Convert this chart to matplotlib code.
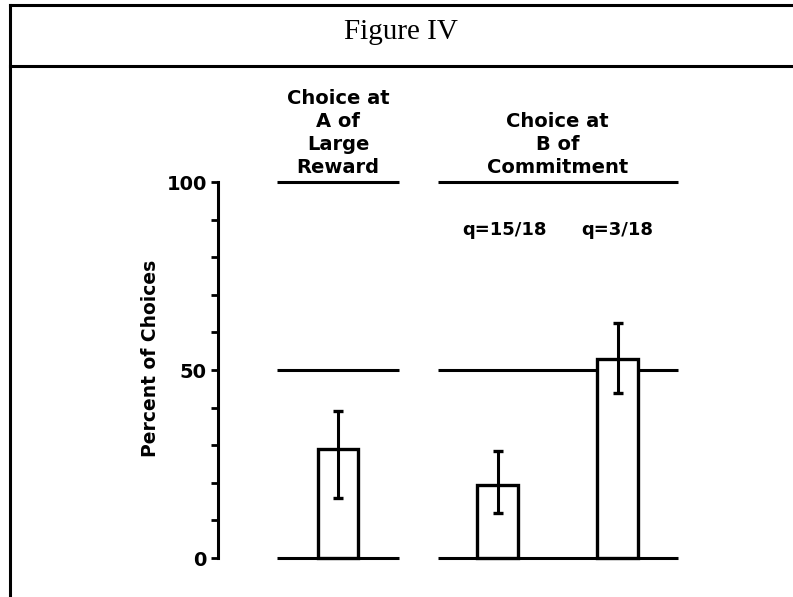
import matplotlib
matplotlib.use('Agg')
import matplotlib.pyplot as plt
from matplotlib.lines import Line2D

# bar data (percent of choices)
bar_labels = ['Large Reward', 'q=15/18', 'q=3/18']
bar_pos = [1.0, 2.33, 3.33]
bar_values = [29, 19.5, 53]
err_low = [16, 12, 44]
err_high = [39, 28.5, 62.5]

# reference lines per group (0, 50, 100 percent)
ref_levels = [0, 50, 100]
group_centers = [1.0, 2.83]
group_halfwidths = [0.51, 1.0]
group_titles = ['Choice at\nA of\nLarge\nReward', 'Choice at\nB of\nCommitment']
q_labels = ['q=15/18', 'q=3/18']

W, H = 793, 597
fig = plt.figure(figsize=(W / 100, H / 100), dpi=100)

# frame around the figure, like the scanned page
fig.add_artist(Line2D([10 / W, 10 / W], [0, 1 - 5 / H], color='black', lw=2.2, transform=fig.transFigure))
fig.add_artist(Line2D([10 / W, 1], [1 - 5 / H, 1 - 5 / H], color='black', lw=2.2, transform=fig.transFigure))
fig.add_artist(Line2D([10 / W, 1], [1 - 66 / H, 1 - 66 / H], color='black', lw=2.2, transform=fig.transFigure))
fig.text(401 / W, 1 - 39 / H, 'Figure IV', ha='center', va='baseline',
         family='Liberation Serif', fontsize=21)

ax = fig.add_axes([218 / W, (H - 558) / H, 480 / W, 376 / H])
ax.set_xlim(0, 4.0)
ax.set_ylim(0, 100)

for s in ['top', 'right', 'bottom']:
    ax.spines[s].set_visible(False)
ax.spines['left'].set_linewidth(2.2)

# reference lines
for c, hw in zip(group_centers, group_halfwidths):
    for lv in ref_levels:
        ax.hlines(lv, c - hw, c + hw, color='black', lw=2.2, clip_on=False)

# bars
ax.bar(bar_pos, bar_values, width=0.34, facecolor='white', edgecolor='black', lw=2.4, zorder=3, clip_on=False)
yerr = [[v - lo for v, lo in zip(bar_values, err_low)], [hi - v for v, hi in zip(bar_values, err_high)]]
ax.errorbar(bar_pos, bar_values, yerr=yerr, fmt='none', ecolor='black', elinewidth=2.2,
            capsize=3.5, capthick=2.4, zorder=4)

ax.set_xticks([])
ax.set_yticks([0, 50, 100])
ax.set_yticks(range(0, 101, 10), minor=True)
ax.tick_params(axis='y', which='both', direction='out', length=5, width=2, pad=3)
ax.set_yticklabels(['0', '50', '100'], fontsize=14, fontweight='bold', family='DejaVu Sans')
ax.set_ylabel('Percent of Choices', fontsize=13.5, fontweight='bold', family='DejaVu Sans')
ax.yaxis.set_label_coords(-0.12, 0.53)

# group titles above the 100 line
for c, t in zip(group_centers, group_titles):
    ax.text(c, 102.4, t, ha='center', va='baseline', fontsize=14, fontweight='bold',
            family='DejaVu Sans', linespacing=1.27)

for p, q, off in zip(bar_pos[1:], q_labels, [0.06, 0.0]):
    ax.text(p + off, 87.2, q, ha='center', va='center', fontsize=13, fontweight='bold',
            family='DejaVu Sans')

fig.savefig('out.png', dpi=100)
